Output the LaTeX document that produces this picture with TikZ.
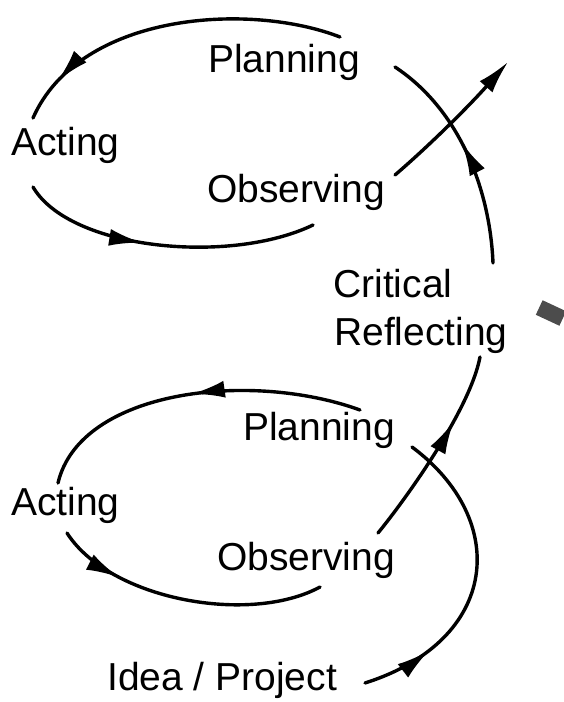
\documentclass[tikz,border=0pt]{standalone}
\usepackage{fontspec}
\setmainfont{Liberation Sans}
\usetikzlibrary{arrows.meta,decorations.markings}
\begin{document}
\begin{tikzpicture}[x=1pt,y=-1pt,
  lbl/.style={anchor=base west,inner sep=0pt,font=\fontsize{39}{47}\selectfont},
  curve/.style={line width=3.4pt,line cap=round},
  tip/.style={-{Latex[length=33pt,width=17pt]}},
  midtip/.style={postaction={decorate},decoration={markings,
     mark=at position #1 with {\arrow{Latex[length=33pt,width=17pt]}}}}]
\useasboundingbox[fill=white] (0,0) rectangle (564,702);
% labels
\node[lbl] (plan1) at (208,72) {Planning};
\node[lbl] (act1) at (11,155) {Acting};
\node[lbl] (obs1) at (207,202) {Observing};
\node[lbl] (crit) at (333,297) {Critical};
\node[lbl] (refl) at (334,345) {Reflecting};
\node[lbl] (plan2) at (243,440) {Planning};
\node[lbl] (act2) at (11,515) {Acting};
\node[lbl] (obs2) at (217,570) {Observing};
\node[lbl] (idea) at (107,690) {Idea / Project};
% path end points
\coordinate (a1) at (340,37);
\coordinate (a2) at (33,118);
\coordinate (b1) at (33,187);
\coordinate (b2) at (313,225);
\coordinate (c1) at (395,175);
\coordinate (c2) at (508,62);
\coordinate (d1) at (493,263);
\coordinate (d2) at (395,67);
\coordinate (e1) at (360,410);
\coordinate (e2) at (58,483);
\coordinate (f1) at (67,533);
\coordinate (f2) at (320,587);
\coordinate (g1) at (378,533);
\coordinate (g2) at (480,357);
\coordinate (h1) at (365,683);
\coordinate (h2) at (412,447);
% top loop
\draw[curve,midtip=0.87] (a1) .. controls (250,2) and (80,12) .. (a2);
\draw[curve,midtip=0.42] (b1) .. controls (70,250) and (230,265) .. (b2);
\draw[curve,tip] (c1) .. controls (430,145) and (470,105) .. (c2);
\draw[curve,midtip=0.55] (d1) .. controls (490,190) and (460,110) .. (d2);
% bottom loop
\draw[curve,midtip=0.5] (e1) .. controls (250,370) and (80,390) .. (e2);
\draw[curve,midtip=0.25] (f1) .. controls (110,600) and (250,625) .. (f2);
\draw[curve,midtip=0.66] (g1) .. controls (405,500) and (470,410) .. (g2);
\draw[curve,midtip=0.23] (h1) .. controls (500,640) and (510,520) .. (h2);
% scan mark
\fill[black!70,rotate around={-25:(551,313)}] (538,305) rectangle (564,321);
\end{tikzpicture}
\end{document}
